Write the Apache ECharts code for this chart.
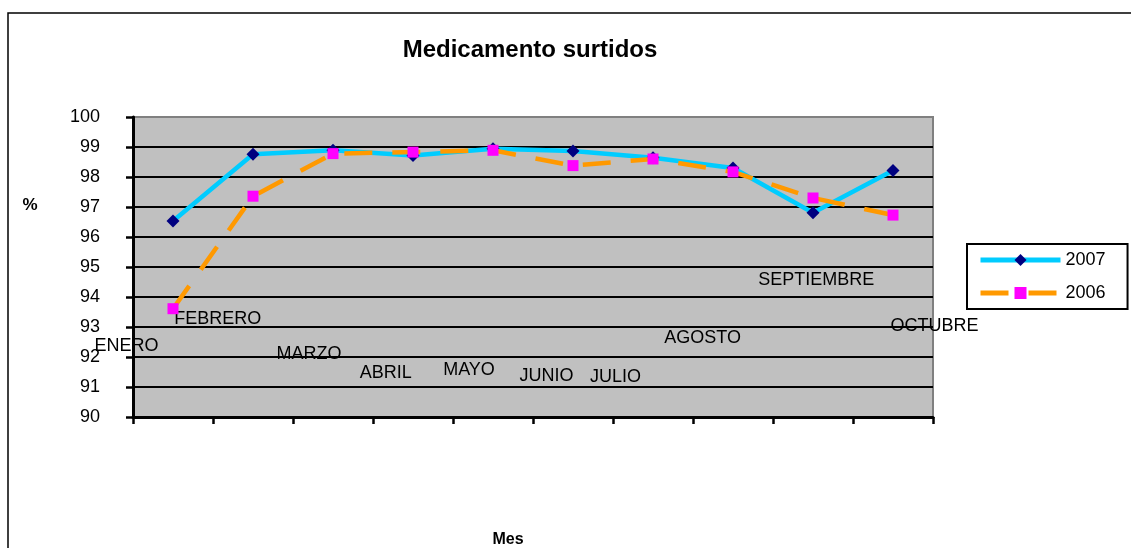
<!DOCTYPE html>
<html>
<head>
<meta charset="utf-8">
<script src="https://cdn.jsdelivr.net/npm/echarts@6/dist/echarts.min.js"></script>
<style>
html,body{margin:0;padding:0;background:#fff;}
#chart{width:1131px;height:548px;}
</style>
</head>
<body>
<div id="chart"></div>
<script>
// ---- data ----
var months = ['ENERO','FEBRERO','MARZO','ABRIL','MAYO','JUNIO','JULIO','AGOSTO','SEPTIEMBRE','OCTUBRE'];
var values2007 = [96.53, 98.76, 98.89, 98.72, 98.94, 98.87, 98.64, 98.30, 96.81, 98.22];
var values2006 = [93.61, 97.36, 98.78, 98.83, 98.89, 98.38, 98.60, 98.17, 97.30, 96.73];
var yTicks = [90, 91, 92, 93, 94, 95, 96, 97, 98, 99, 100];
// month annotations, anchored in data units (category index, %)
var monthLabelX = [-0.58, 0.56, 1.70, 2.66, 3.70, 4.67, 5.53, 6.62, 8.04, 9.52];
var monthLabelY = [92.38, 93.25, 92.09, 91.46, 91.56, 91.36, 91.33, 92.62, 94.58, 93.03];

var FONT = '"Liberation Sans", Arial, sans-serif';

var annot = months.map(function (m, i) {
  return { name: m, value: [monthLabelX[i], monthLabelY[i]] };
});

var chart = echarts.init(document.getElementById('chart'), null, { renderer: 'canvas' });
chart.setOption({
  backgroundColor: '#ffffff',
  animation: false,
  textStyle: { fontFamily: FONT },
  graphic: [
    { type: 'rect', z: -10, silent: true,
      shape: { x: 8, y: 13, width: 1200, height: 600 },
      style: { fill: '#ffffff', stroke: '#000000', lineWidth: 1.5 } },
    { type: 'text', x: 530, y: 50, z: 10,
      style: { text: 'Medicamento surtidos', fill: '#000', font: 'bold 24px ' + FONT, align: 'center', verticalAlign: 'middle' } },
    { type: 'text', x: 30, y: 205, z: 10,
      style: { text: '%', fill: '#000', font: 'bold 17px ' + FONT, align: 'center', verticalAlign: 'middle' } },
    { type: 'text', x: 508, y: 540, z: 10,
      style: { text: 'Mes', fill: '#000', font: 'bold 16px ' + FONT, align: 'center', verticalAlign: 'middle' } }
  ],
  legend: {
    left: 967, top: 244,
    orient: 'vertical',
    data: ['2007', '2006'],
    borderColor: '#000', borderWidth: 2,
    backgroundColor: '#fff',
    padding: [7, 22, 7, 11],
    itemWidth: 80, itemHeight: 15, itemGap: 15,
    lineStyle: { width: 5 },
    textStyle: { fontSize: 18, color: '#000', fontFamily: FONT }
  },
  grid: {
    left: 133, top: 117, width: 800, height: 300,
    show: true, backgroundColor: '#C0C0C0',
    borderColor: '#808080', borderWidth: 2
  },
  xAxis: [
    {
      type: 'category', data: months, boundaryGap: true,
      axisLine: { show: true, onZero: false, lineStyle: { color: '#000', width: 3 } },
      axisTick: { show: true, interval: 0, length: 7, lineStyle: { color: '#000', width: 2.5 } },
      axisLabel: { show: false },
      splitLine: { show: false }
    },
    {
      type: 'value', min: -0.5, max: 9.5, show: false,
      axisLine: { onZero: false }
    }
  ],
  yAxis: {
    type: 'value', min: yTicks[0], max: yTicks[yTicks.length - 1], interval: 1,
    axisLine: { show: true, onZero: false, lineStyle: { color: '#000', width: 3 } },
    axisTick: { show: true, length: 7, lineStyle: { color: '#000', width: 2.5 } },
    axisLabel: { color: '#000', fontSize: 18, margin: 33, fontFamily: FONT },
    splitLine: { show: true, showMaxLine: false, lineStyle: { color: '#000', width: 2 } }
  },
  series: [
    {
      name: 'annot', type: 'scatter', xAxisIndex: 1, yAxisIndex: 0,
      data: annot, symbolSize: 0, clip: false, silent: true, z: 1,
      itemStyle: { opacity: 1 },
      label: { show: true, position: 'inside', formatter: '{b}', color: '#000', opacity: 1, fontSize: 18, fontFamily: FONT }
    },
    {
      name: '2007', type: 'line', data: values2007, z: 3,
      lineStyle: { color: '#00CCFF', width: 4.5 },
      symbol: 'diamond', symbolSize: 13, showAllSymbol: true,
      itemStyle: { color: '#000080', borderWidth: 0 },
      color: '#00CCFF'
    },
    {
      name: '2006', type: 'line', data: values2006, z: 4,
      lineStyle: { color: '#FF9900', width: 4.5, type: [28, 20] },
      symbol: 'rect', symbolSize: 11, showAllSymbol: true,
      itemStyle: { color: '#FF00FF', borderWidth: 0 },
      color: '#FF9900'
    }
  ]
});
</script>
</body>
</html>
